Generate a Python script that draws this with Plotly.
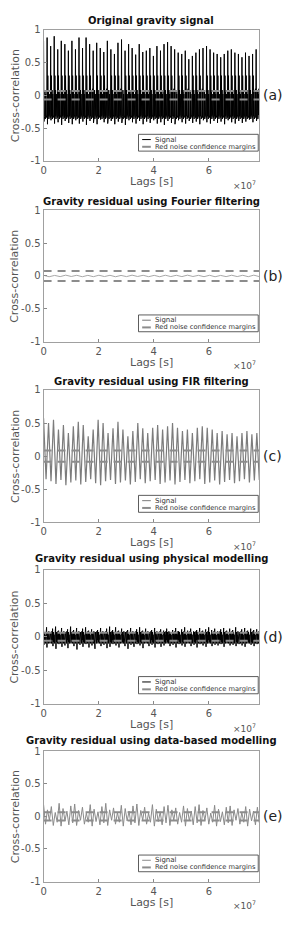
import numpy as np
import plotly.graph_objects as go

# ---------------- data ----------------
XMAX = 7.83e7
x_ticks = [0, 2e7, 4e7, 6e7]
x_ticktext = ["0", "2", "4", "6"]
y_ticks = [-1, -0.5, 0, 0.5, 1]
y_ticktext = ["-1", "-0.5", "0", "0.5", "1"]

titles = ["Original gravity signal",
          "Gravity residual using Fourier filtering",
          "Gravity residual using FIR filtering",
          "Gravity residual using physical modelling",
          "Gravity residual using data-based modelling"]
panel_labels = ["(a)", "(b)", "(c)", "(d)", "(e)"]
margins = [0.065, 0.075, 0.085, 0.06, 0.065]

# (a) original signal: spike maxima / minima per cycle + inner oscillations
a_peak = [0.83, 0.88, 0.75, 0.90, 0.70, 0.83, 0.78, 0.68, 0.83, 0.70, 0.88, 0.72,
          0.88, 0.78, 0.68, 0.80, 0.72, 0.66, 0.83, 0.70, 0.63, 0.80, 0.85, 0.68,
          0.78, 0.72, 0.62, 0.78, 0.66, 0.68, 0.72, 0.60, 0.75, 0.68, 0.78, 0.81,
          0.75, 0.70, 0.65, 0.63, 0.68, 0.55, 0.60, 0.65, 0.70, 0.72, 0.75, 0.70,
          0.65, 0.63, 0.58, 0.63, 0.68, 0.70, 0.65, 0.63, 0.58, 0.65, 0.60, 0.63, 0.70]
a_trough = [-0.40, -0.44, -0.38, -0.43, -0.41, -0.45, -0.39, -0.42, -0.44, -0.38,
            -0.43, -0.40, -0.45, -0.39, -0.42, -0.44, -0.37, -0.41, -0.43, -0.39,
            -0.44, -0.40, -0.42, -0.45, -0.38, -0.41, -0.43, -0.39, -0.44, -0.40,
            -0.42, -0.38, -0.43, -0.41, -0.45, -0.39, -0.42, -0.44, -0.38, -0.41,
            -0.43, -0.39, -0.42, -0.40, -0.44, -0.38, -0.41, -0.43, -0.39, -0.42,
            -0.40, -0.44, -0.38, -0.41, -0.43, -0.39, -0.42, -0.40, -0.37, -0.41, -0.39]
a_inner = [0.30, -0.32, 0.08, -0.36, 0.02, -0.30, 0.10, -0.34]

# (b) Fourier-filtered residual: tiny oscillation around zero
b_signal = [0.010, -0.012, 0.008, -0.010, 0.012, -0.008, 0.010, -0.012, 0.009, -0.011,
            0.011, -0.009, 0.010, -0.012, 0.008, -0.010, 0.012, -0.008, 0.010, -0.011,
            0.009, -0.012, 0.011, -0.009, 0.010, -0.010, 0.012, -0.008, 0.009, -0.011,
            0.010, -0.012, 0.008, -0.010, 0.011, -0.009, 0.010, -0.011, 0.012, -0.010]

# (c) FIR-filtered residual
c_peak = [0.57, 0.50, 0.55, 0.40, 0.47, 0.35, 0.45, 0.52, 0.47, 0.30, 0.40, 0.55,
          0.50, 0.35, 0.42, 0.52, 0.40, 0.30, 0.38, 0.50, 0.42, 0.35, 0.43, 0.47,
          0.40, 0.45, 0.50, 0.43, 0.38, 0.40, 0.35, 0.43, 0.45, 0.43, 0.40, 0.35,
          0.38, 0.33, 0.35, 0.30, 0.35, 0.38, 0.33, 0.35]
c_trough = [-0.35, -0.38, -0.42, -0.36, -0.44, -0.40, -0.37, -0.43, -0.39, -0.35,
            -0.41, -0.44, -0.38, -0.36, -0.42, -0.40, -0.37, -0.43, -0.39, -0.35,
            -0.41, -0.38, -0.36, -0.42, -0.40, -0.37, -0.43, -0.39, -0.36, -0.41,
            -0.38, -0.35, -0.42, -0.40, -0.37, -0.43, -0.39, -0.36, -0.41, -0.38,
            -0.35, -0.40, -0.37, -0.36]
c_inner = []

# (d) physical-modelling residual: dense narrow band
d_peak = [0.10, 0.14, 0.08, 0.12, 0.15, 0.09, 0.13, 0.07, 0.11, 0.15, 0.10, 0.13,
          0.08, 0.12, 0.14, 0.09, 0.11, 0.06, 0.10, 0.13, 0.08, 0.12, 0.15, 0.10,
          0.14, 0.09, 0.12, 0.07, 0.10, 0.13, 0.08, 0.11, 0.14, 0.09, 0.12, 0.07,
          0.10, 0.13, 0.08, 0.11, 0.09, 0.12, 0.07, 0.10, 0.13, 0.08, 0.11, 0.14,
          0.09, 0.12, 0.08, 0.10, 0.13, 0.09, 0.11, 0.14, 0.10, 0.12, 0.08, 0.11,
          0.13, 0.09, 0.12, 0.10, 0.14, 0.08, 0.11, 0.13, 0.09, 0.12, 0.10, 0.11]
d_trough = [-0.12, -0.16, -0.10, -0.14, -0.18, -0.11, -0.15, -0.13, -0.17, -0.10,
            -0.14, -0.19, -0.12, -0.15, -0.11, -0.16, -0.13, -0.18, -0.10, -0.14,
            -0.12, -0.17, -0.15, -0.11, -0.13, -0.16, -0.10, -0.14, -0.18, -0.12,
            -0.15, -0.11, -0.13, -0.17, -0.10, -0.14, -0.12, -0.16, -0.11, -0.15,
            -0.13, -0.10, -0.14, -0.12, -0.16, -0.11, -0.13, -0.15, -0.10, -0.14,
            -0.12, -0.16, -0.11, -0.13, -0.15, -0.10, -0.14, -0.12, -0.13, -0.11,
            -0.15, -0.10, -0.13, -0.12, -0.14, -0.11, -0.13, -0.15, -0.10, -0.12,
            -0.14, -0.11]
d_inner = [0.07, -0.08, 0.03, -0.10, 0.08, -0.05]

# (e) data-based-modelling residual
e_peak = [0.18, 0.10, 0.15, 0.06, 0.20, 0.12, 0.08, 0.16, 0.19, 0.09, 0.14, 0.05,
          0.18, 0.11, 0.07, 0.15, 0.20, 0.10, 0.13, 0.06, 0.17, 0.12, 0.08, 0.16,
          0.19, 0.09, 0.14, 0.05, 0.18, 0.11, 0.07, 0.15, 0.17, 0.10, 0.13, 0.06,
          0.16, 0.12, 0.08, 0.15, 0.18, 0.09, 0.13, 0.05, 0.17, 0.11, 0.07, 0.14,
          0.16, 0.10, 0.12, 0.06, 0.15, 0.11, 0.08, 0.14]
e_trough = [-0.12, -0.06, -0.14, -0.09, -0.15, -0.07, -0.13, -0.10, -0.14, -0.06,
            -0.12, -0.09, -0.15, -0.08, -0.13, -0.10, -0.14, -0.06, -0.12, -0.09,
            -0.15, -0.07, -0.13, -0.10, -0.14, -0.06, -0.12, -0.09, -0.15, -0.08,
            -0.13, -0.10, -0.14, -0.06, -0.12, -0.09, -0.15, -0.07, -0.13, -0.10,
            -0.14, -0.06, -0.12, -0.09, -0.15, -0.08, -0.13, -0.10, -0.14, -0.06,
            -0.12, -0.09, -0.15, -0.07, -0.13, -0.10]
e_inner = []


def build(peaks, troughs, inner):
    ys = []
    for p, t in zip(peaks, troughs):
        ys += [p, t] + list(inner)
    return ys


signals = [build(a_peak, a_trough, a_inner),
           b_signal,
           build(c_peak, c_trough, c_inner),
           build(d_peak, d_trough, d_inner),
           build(e_peak, e_trough, e_inner)]
sig_colors = ["#000000", "#a8a8a8", "#7c7c7c", "#000000", "#8a8a8a"]
sig_widths = [1.0, 1.0, 1.2, 1.0, 1.0]

# ---------------- layout geometry (pixels) ----------------
W, H = 290, 926
X0, X1 = 41, 259
tops = [24, 207, 389, 571, 755]
bottoms = [157, 340, 523, 707, 887]
title_gap = [9, 9, 9, 11, 11]

FONT = "DejaVu Sans"
GRAY_TXT = "#555555"
MARGIN_COLOR = "#8c8c8c"

fig = go.Figure()
layout = dict(width=W, height=H, margin=dict(l=0, r=0, t=0, b=0),
              paper_bgcolor="white", plot_bgcolor="white", showlegend=False,
              font=dict(family=FONT, color=GRAY_TXT))
annotations = []
shapes = []


def py(pix):
    return 1 - pix / H


for i in range(5):
    k = "" if i == 0 else str(i + 1)
    xa, ya = "x" + k, "y" + k
    ys = signals[i]
    xs = np.linspace(0, XMAX, len(ys))
    fig.add_trace(go.Scatter(x=xs, y=ys, mode="lines", xaxis=xa, yaxis=ya,
                             line=dict(color=sig_colors[i], width=sig_widths[i]),
                             hoverinfo="skip"))
    for m in (margins[i], -margins[i]):
        fig.add_trace(go.Scatter(x=[0, XMAX], y=[m, m], mode="lines", xaxis=xa, yaxis=ya,
                                 line=dict(color=MARGIN_COLOR, width=2, dash="8px,6px"),
                                 hoverinfo="skip"))
    layout["xaxis" + k] = dict(domain=[X0 / W, X1 / W], range=[0, XMAX], anchor=ya,
                               tickvals=x_ticks, ticktext=x_ticktext, ticks="inside",
                               ticklen=3, tickcolor="#888", showline=True, mirror=True,
                               linecolor="#a0a0a0", linewidth=1, showgrid=False,
                               zeroline=False, tickfont=dict(size=10, color=GRAY_TXT))
    layout["yaxis" + k] = dict(domain=[py(bottoms[i]), py(tops[i])], range=[-1, 1],
                               anchor=xa, tickvals=y_ticks, ticktext=y_ticktext,
                               ticks="inside", ticklen=3, tickcolor="#888",
                               showline=True, mirror=True, linecolor="#a0a0a0",
                               linewidth=1, showgrid=False, zeroline=False,
                               tickfont=dict(size=10, color=GRAY_TXT))
    mid = (tops[i] + bottoms[i]) / 2
    # title
    annotations.append(dict(text="<b>" + titles[i] + "</b>", x=(X0 + X1) / 2 / W,
                            y=py(tops[i] - title_gap[i]), xref="paper", yref="paper",
                            showarrow=False, xanchor="center", yanchor="middle",
                            font=dict(size=10, color="#111111", family=FONT)))
    # y title
    annotations.append(dict(text="Cross-correlation", x=12 / W, y=py(mid), xref="paper",
                            yref="paper", showarrow=False, textangle=-90,
                            xanchor="center", yanchor="middle",
                            font=dict(size=11, color=GRAY_TXT, family=FONT)))
    # x title
    annotations.append(dict(text="Lags [s]", x=(X0 + X1) / 2 / W, y=py(bottoms[i] + 21),
                            xref="paper", yref="paper", showarrow=False,
                            xanchor="center", yanchor="middle",
                            font=dict(size=11, color=GRAY_TXT, family=FONT)))
    # exponent
    annotations.append(dict(text="×10<sup>7</sup>", x=258 / W, y=py(bottoms[i] + 24),
                            xref="paper", yref="paper", showarrow=False,
                            xanchor="right", yanchor="middle",
                            font=dict(size=9, color=GRAY_TXT, family=FONT)))
    # panel label
    annotations.append(dict(text=panel_labels[i], x=261 / W, y=0, xref="paper", yref=ya,
                            showarrow=False, xanchor="left", yanchor="middle",
                            font=dict(size=14, color="#222222", family=FONT)))
    # legend box
    xd, yd = xa + " domain", ya + " domain"
    shapes.append(dict(type="rect", xref=xd, yref=yd, x0=0.44, x1=0.995, y0=0.075,
                       y1=0.203, line=dict(color="#333333", width=0.8),
                       fillcolor="white", layer="above"))
    shapes.append(dict(type="line", xref=xd, yref=yd, x0=0.457, x1=0.497, y0=0.163,
                       y1=0.163, line=dict(color=sig_colors[i] if i != 1 else "#777",
                                           width=1), layer="above"))
    shapes.append(dict(type="line", xref=xd, yref=yd, x0=0.457, x1=0.497, y0=0.108,
                       y1=0.108, line=dict(color=MARGIN_COLOR, width=2), layer="above"))
    annotations.append(dict(text="Signal", x=0.505, y=0.163, xref=xd, yref=yd,
                            showarrow=False, xanchor="left", yanchor="middle",
                            font=dict(size=7, color="#333333", family=FONT)))
    annotations.append(dict(text="Red noise confidence margins", x=0.505, y=0.108,
                            xref=xd, yref=yd, showarrow=False, xanchor="left",
                            yanchor="middle",
                            font=dict(size=6.7, color="#333333", family=FONT)))

layout["annotations"] = annotations
layout["shapes"] = shapes
fig.update_layout(**layout)
fig.write_html("out.html", config={"displayModeBar": False},
               post_script="document.body.style.margin='0';"
                           "document.body.style.overflow='hidden';")
